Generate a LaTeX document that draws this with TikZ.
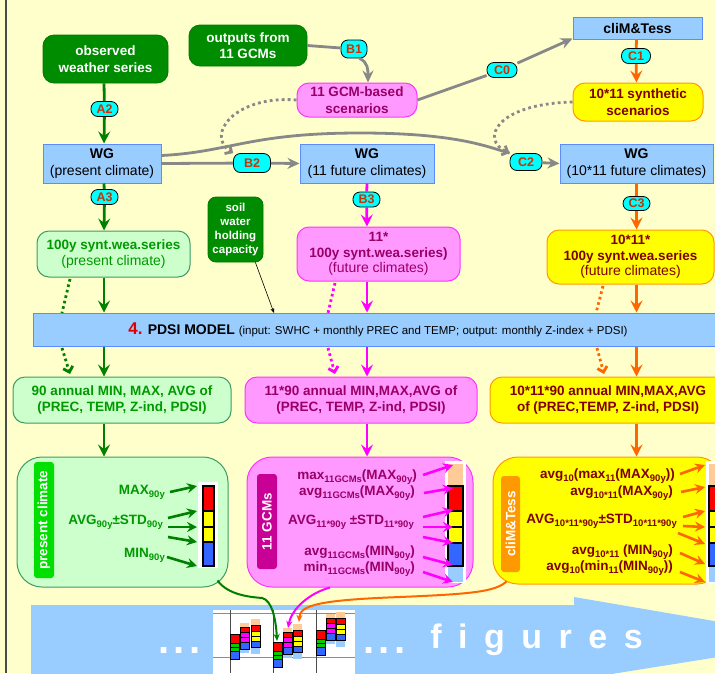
\documentclass[tikz,border=0pt]{standalone}
\usepackage{fontspec}
\setmainfont{Liberation Sans}
\usetikzlibrary{arrows.meta,positioning}

\definecolor{bgyel}{HTML}{FFFFCC}
\definecolor{dkgreen}{HTML}{008C00}
\definecolor{palegreen}{HTML}{CCFFCC}
\definecolor{paleline}{HTML}{3C9C64}
\definecolor{greentext}{HTML}{009900}
\definecolor{arrgreen}{HTML}{008000}
\definecolor{sidegreen}{HTML}{00E000}
\definecolor{skyblue}{HTML}{99CCFF}
\definecolor{skyline}{HTML}{5C8CFF}
\definecolor{pinkfill}{HTML}{FF99FF}
\definecolor{pinkline}{HTML}{FF33FF}
\definecolor{pinktext}{HTML}{990066}
\definecolor{arrmag}{HTML}{FF00FF}
\definecolor{sidemag}{HTML}{C80096}
\definecolor{yelfill}{HTML}{FFFF00}
\definecolor{orgline}{HTML}{FF9900}
\definecolor{yeltext}{HTML}{800000}
\definecolor{arrorg}{HTML}{FF6600}
\definecolor{sideorg}{HTML}{FF9900}
\definecolor{tagcyan}{HTML}{00FFFF}
\definecolor{tagred}{HTML}{CC3300}
\definecolor{numred}{HTML}{DD0000}
\definecolor{conngray}{HTML}{888888}
\definecolor{barred}{HTML}{FF0000}
\definecolor{baryel}{HTML}{FFFF00}
\definecolor{barblu}{HTML}{3366FF}
\definecolor{bargrn}{HTML}{00CC00}
\definecolor{barmag}{HTML}{FF00FF}
\definecolor{barpeach}{HTML}{FFCC99}
\definecolor{barlight}{HTML}{99CCFF}

\newcommand{\fsz}[2]{\fontsize{#1}{#2}\selectfont}
\newcommand{\subt}[1]{\raisebox{-0.4ex}{\fsz{9.5}{10}#1}}
\newcommand{\lgap}{\hspace{16.5pt}}

\tikzset{
  box/.style={align=center, inner sep=0pt, font=\bfseries\fsz{13.5}{16.5}},
  gbox/.style={box, rounded corners=11pt, fill=dkgreen, draw=dkgreen!85!black, line width=0.8pt, text=white},
  wgbox/.style={box, fill=skyblue, draw=skyline, line width=1pt, font=\fsz{14}{16.5}},
  pinkbox/.style={box, rounded corners=12pt, fill=pinkfill, draw=pinkline, line width=1pt, text=pinktext},
  yelbox/.style={box, rounded corners=12pt, fill=yelfill, draw=orgline, line width=1pt, text=yeltext},
  palebox/.style={box, rounded corners=12pt, fill=palegreen, draw=paleline, line width=1pt, text=greentext},
  tag/.style={rounded corners=7pt, fill=tagcyan, draw=black, line width=0.8pt, text=tagred, font=\bfseries\fsz{12.5}{13}, minimum width=27pt, minimum height=15pt, inner sep=0pt},
  sidelab/.style={rotate=90, rounded corners=3pt, text=white, font=\bfseries\fsz{13.5}{14}, inner sep=0pt},
  stattxt/.style={anchor=east, inner sep=0pt, font=\bfseries\fsz{13.5}{14}},
  gline/.style={draw=conngray, line width=2.8pt},
  garr/.style={gline, -{Stealth[length=12pt,width=11pt,inset=4pt]}},
  gdots/.style={gline, dash pattern=on 2.8pt off 3.2pt, -{Straight Barb[length=5pt,width=10pt]}},
  colline/.style={draw=#1, line width=2.8pt},
  colarr/.style={colline=#1, -{Stealth[length=12pt,width=12pt,inset=4.5pt]}},
  dotline/.style={colline=#1, dash pattern=on 2.6pt off 3pt},
  dotarr/.style={dotline=#1, -{Straight Barb[length=5pt,width=10pt]}},
  sarr/.style={draw=#1, line width=2.6pt, -{Stealth[length=10pt,width=10pt,inset=3.5pt]}},
  barseg/.style={draw=black, line width=1.4pt},
  minibar/.style={draw=black, line width=1pt},
  figline/.style={draw=#1, line width=2pt, -{Stealth[length=7pt,width=6pt,inset=2pt]}},
  bigtxt/.style={text=white, font=\bfseries\fsz{34}{36}, inner sep=0pt, anchor=base},
}

\begin{document}
\begin{tikzpicture}[x=1pt, y=-1pt]
  \useasboundingbox (0,0) rectangle (715,673);
  \clip (0,0) rectangle (715,673);
  \fill[bgyel] (0,0) rectangle (715,673);
  \draw[line width=1.2pt, black!70] (6,0) -- (6,673);

  % big arrow to the figures
  \fill[skyblue] (31,680) -- (31,605) -- (574,605) -- (574,597) -- (825,640) -- (574,680) -- cycle;
  \node[bigtxt, font=\bfseries\fsz{40}{40}] (dotsa) at (179.5,653) {.\hspace{4pt}.\hspace{4pt}.};
  \node[bigtxt, font=\bfseries\fsz{40}{40}] (dotsb) at (384.5,653) {.\hspace{4pt}.\hspace{4pt}.};
  \node[bigtxt] (figtxt) at (536.5,648) {f\lgap i\lgap g\lgap u\lgap r\lgap e\lgap s};

  % small figure inset
  \fill[white] (213,610) rectangle (355,680);
  \draw[black!45, line width=0.8pt] (213,613) -- (355,613) (213,657) -- (355,657);
  \foreach \gx in {230,273,316}
    \draw[black!70, line width=0.8pt] (\gx,610) -- (\gx,673);
  \foreach \xa/\ya/\xb/\yb/\xc/\yc in {230/634/240/623/251/619, 273/642/283/628/293/624, 316/630/326/614/336/612}{
    \foreach \ta/\tb/\cc in {0/9/barred, 9/13/bargrn, 13/17/bargrn, 17/25/barblu}
      \draw[minibar, fill=\cc] (\xa,\ya+\ta) rectangle (\xa+9,\ya+\tb);
    \fill[barpeach] (\xb,\yb) rectangle (\xb+9,\yb+4);
    \fill[barlight] (\xb,\yb+26) rectangle (\xb+9,\yb+30);
    \foreach \ta/\tb/\cc in {4/9/barred, 9/14/barmag, 14/19/barmag, 19/26/barblu}
      \draw[minibar, fill=\cc] (\xb,\yb+\ta) rectangle (\xb+9,\yb+\tb);
    \fill[barpeach] (\xc,\yc) rectangle (\xc+9,\yc+6);
    \fill[barlight] (\xc,\yc+28) rectangle (\xc+9,\yc+35);
    \foreach \ta/\tb/\cc in {6/12/barred, 12/17/baryel, 17/22/baryel, 22/28/barblu}
      \draw[minibar, fill=\cc] (\xc,\yc+\ta) rectangle (\xc+9,\yc+\tb);
  }

  % boxes
  \node[gbox, minimum width=125pt, minimum height=48pt] (obs) at (105.5,59) {observed\\weather series};
  \node[gbox, minimum width=118pt, minimum height=41pt] (gcm) at (248,45.5) {outputs from\\11 GCMs};
  \node[pinkbox, minimum width=120pt, minimum height=34pt] (gcmsc) at (357,100) {11 GCM-based\\scenarios};
  \node[wgbox, font=\bfseries\fsz{14}{16}, minimum width=129pt, minimum height=22pt] (climt) at (637.5,28) {cliM\&Tess};
  \node[yelbox, minimum width=130pt, minimum height=38pt] (synth) at (638,102) {10*11 synthetic\\scenarios};
  \node[wgbox, minimum width=118pt, minimum height=39pt] (wg0) at (102,163.5) {\textbf{WG}\\(present climate)};
  \node[wgbox, minimum width=134pt, minimum height=39pt] (wg1) at (367,163.5) {\textbf{WG}\\(11 future climates)};
  \node[wgbox, minimum width=153pt, minimum height=39pt] (wg2) at (636.5,163.5) {\textbf{WG}\\(10*11 future climates)};

  \node[palebox, minimum width=153pt, minimum height=46pt] (syn0) at (113.5,254) {100y synt.wea.series\\{\mdseries\fsz{14}{16}(present climate)}};
  \node[gbox, rounded corners=8pt, font=\bfseries\fsz{11.5}{14}, minimum width=55pt, minimum height=65pt] (soil) at (235.5,229.5) {soil\\water\\holding\\capacity};
  \node[pinkbox, font=\bfseries\fsz{13.5}{15.5}, minimum width=163pt, minimum height=54pt] (syn1) at (378.5,254) {11*\\100y synt.wea.series)\\{\mdseries\fsz{14}{15.5}(future climates)}};
  \node[yelbox, font=\bfseries\fsz{13.5}{15.5}, minimum width=167pt, minimum height=54pt] (syn2) at (630.5,257) {10*11*\\100y synt.wea.series\\{\mdseries\fsz{14}{15.5}(future climates)}};

  \node[wgbox, minimum width=690pt, minimum height=33pt] (pdsi) at (378,329.5)
    {{\bfseries\fsz{17}{18}\textcolor{numred}{4.}} \textbf{PDSI MODEL} {\fsz{11.5}{13}(input: SWHC + monthly PREC and TEMP; output: monthly Z-index + PDSI)}};

  \node[palebox, font=\bfseries\fsz{13.5}{16}, minimum width=218pt, minimum height=46pt] (ann0) at (122,400) {90 annual MIN, MAX, AVG of\\(PREC, TEMP, Z-ind, PDSI)};
  \node[pinkbox, font=\bfseries\fsz{13.5}{16}, minimum width=232pt, minimum height=46pt] (ann1) at (361,400) {11*90 annual MIN,MAX,AVG of\\(PREC, TEMP, Z-ind, PDSI)};
  \node[yelbox, font=\bfseries\fsz{13.5}{16}, minimum width=236pt, minimum height=46pt] (ann2) at (608,400) {10*11*90 annual MIN,MAX,AVG\\of (PREC,TEMP, Z-ind, PDSI)};

  % statistics boxes
  \node[palebox, rounded corners=25pt, minimum width=211pt, minimum height=130pt] (stat0) at (122.5,522) {};
  \node[pinkbox, rounded corners=25pt, minimum width=226pt, minimum height=130pt] (stat1) at (360,522) {};
  \node[yelbox, rounded corners=25pt, minimum width=229pt, minimum height=127pt] (stat2) at (607.5,520.5) {};
  \node[sidelab, fill=sidegreen, minimum width=116pt, minimum height=20pt] (lab0) at (44,520) {present climate};
  \node[sidelab, fill=sidemag, minimum width=95pt, minimum height=20pt] (lab1) at (267,521.5) {11 GCMs};
  \node[sidelab, fill=sideorg, minimum width=96pt, minimum height=19pt] (lab2) at (510.5,524) {cliM\&Tess};

  \node[stattxt, text=greentext] (t0a) at (165,492) {MAX\subt{90y}};
  \node[stattxt, text=greentext] (t0b) at (163,522) {AVG\subt{90y}±STD\subt{90y}};
  \node[stattxt, text=greentext] (t0c) at (165,555) {MIN\subt{90y}};
  \node[stattxt, text=pinktext] (t1a) at (417,477) {max\subt{11GCMs}(MAX\subt{90y})};
  \node[stattxt, text=pinktext] (t1b) at (415,493) {avg\subt{11GCMs}(MAX\subt{90y})};
  \node[stattxt, text=pinktext] (t1c) at (414,522) {AVG\subt{11*90y} ±STD\subt{11*90y}};
  \node[stattxt, text=pinktext] (t1d) at (415,553) {avg\subt{11GCMs}(MIN\subt{90y})};
  \node[stattxt, text=pinktext] (t1e) at (415,569) {min\subt{11GCMs}(MIN\subt{90y})};
  \node[stattxt, text=yeltext] (t2a) at (675,476) {avg\subt{10}(max\subt{11}(MAX\subt{90y}))};
  \node[stattxt, text=yeltext] (t2b) at (673,493) {avg\subt{10*11}(MAX\subt{90y})};
  \node[stattxt, text=yeltext] (t2c) at (677,521) {AVG\subt{10*11*90y}±STD\subt{10*11*90y}};
  \node[stattxt, text=yeltext] (t2d) at (673,552) {avg\subt{10*11} (MIN\subt{90y})};
  \node[stattxt, text=yeltext] (t2e) at (673,568) {avg\subt{10}(min\subt{11}(MIN\subt{90y}))};

  % bars in the statistics boxes
  \fill[white] (198,482) rectangle (218,568);
  \foreach \ta/\tb/\cc in {486/511/barred, 511/527/baryel, 527/542/baryel, 542/566/barblu}
    \draw[barseg, fill=\cc] (203,\ta) rectangle (214,\tb);
  \foreach \bx in {448,709}{
    \fill[white] (\bx-3,461) rectangle (\bx+18,583);
    \fill[barpeach] (\bx,464) rectangle (\bx+15,486);
    \fill[barlight] (\bx,566) rectangle (\bx+15,582);
    \foreach \ta/\tb/\cc in {486/511/barred, 511/527/baryel, 527/543/baryel, 543/566/barblu}
      \draw[barseg, fill=\cc] (\bx,\ta) rectangle (\bx+15,\tb);
  }

  \draw[sarr=arrgreen] ([xshift=5pt]t0a.east) -- ++(27,-6);
  \draw[sarr=arrgreen] ([shift={(5,-4)}]t0b.east) -- ++(29,-7);
  \draw[sarr=arrgreen] ([shift={(5,5)}]t0b.east) -- ++(29,0);
  \draw[sarr=arrgreen] ([shift={(5,15)}]t0b.east) -- ++(29,5);
  \draw[sarr=arrgreen] ([shift={(2,2)}]t0c.east) -- ++(30,9);
  \draw[sarr=arrmag] ([shift={(6,-2)}]t1a.east) -- ++(30,-10);
  \draw[sarr=arrmag] ([xshift=9pt]t1b.east) -- ++(29,-5);
  \draw[sarr=arrmag] ([shift={(9,-5)}]t1c.east) -- ++(30,-7);
  \draw[sarr=arrmag] ([shift={(9,5)}]t1c.east) -- ++(30,0);
  \draw[sarr=arrmag] ([shift={(9,15)}]t1c.east) -- ++(30,6);
  \draw[sarr=arrmag] ([shift={(8,4)}]t1d.east) -- ++(30,8);
  \draw[sarr=arrmag] ([shift={(8,3)}]t1e.east) -- ++(30,10);
  \draw[sarr=arrorg] ([shift={(5,-2)}]t2a.east) -- ++(25,-9);
  \draw[sarr=arrorg] ([shift={(8,-1)}]t2b.east) -- ++(24,-5);
  \draw[sarr=arrorg] ([shift={(6,-4)}]t2c.east) -- ++(22,-6);
  \draw[sarr=arrorg] ([shift={(6,5)}]t2c.east) -- ++(22,1);
  \draw[sarr=arrorg] ([shift={(1,12)}]t2c.east) -- ++(27,11);
  \draw[sarr=arrorg] ([shift={(7,1)}]t2d.east) -- ++(25,11);
  \draw[sarr=arrorg] ([shift={(7,4)}]t2e.east) -- ++(25,10);

  % tags
  \node[tag] (a2) at (104.5,109) {A2};
  \node[tag, minimum width=26pt, minimum height=18pt] (b1) at (354,49) {B1};
  \node[tag, minimum width=30pt] (c0) at (502,70) {C0};
  \node[tag, minimum width=29pt] (c1) at (636,56) {C1};
  \node[tag, minimum width=37pt, minimum height=19pt] (b2) at (252,163) {B2};
  \node[tag, minimum width=32pt, minimum height=17pt] (c2) at (526,162) {C2};
  \node[tag] (a3) at (104.5,197) {A3};
  \node[tag] (b3) at (366.5,199.5) {B3};
  \node[tag, minimum height=14pt] (c3) at (636.5,203.5) {C3};

  \coordinate (colA) at (104,0);
  \coordinate (colB) at (367,0);
  \coordinate (colC) at (636.5,0);

  % grey connectors
  \draw[gline] (gcm.east) -- (b1);
  \draw[garr] (b1.-60) .. controls (368,62) and (368,70) .. ([xshift=11pt]gcmsc.north);
  \draw[gline] (gcmsc.east) -- (c0);
  \draw[garr] (c0) -- ([yshift=1pt]climt.south west);
  \draw[gline] (wg0.east) -- (b2);
  \draw[garr] (b2) -- (wg1.west);
  \draw[gline] ([yshift=8pt]wg0.east) .. controls (230,152) and (250,133) .. (360,133)
    .. controls (460,133) and (490,148) .. (c2.north west);
  \draw[garr] (c2) -- (wg2.west);
  \draw[gdots] (gcmsc.west) .. controls (235,95) and (205,135) .. (b2.north west);
  \draw[gdots] (synth.west) .. controls (495,104) and (480,140) .. (c2.north west);

  % coloured columns
  \draw[colline=arrgreen] (obs.south -| colA) -- (a2);
  \draw[colarr=arrgreen] (a2) -- (wg0.north -| colA);
  \draw[colline=arrgreen] (wg0.south -| colA) -- (a3);
  \draw[colarr=arrgreen] (a3) -- (syn0.north -| colA);
  \draw[colline=arrorg] (climt.south -| colC) -- (c1);
  \draw[colarr=arrorg] (c1) -- (synth.north -| colC);
  \draw[colline=arrmag] (wg1.south -| colB) -- (b3);
  \draw[colarr=arrmag] (b3) -- (syn1.north -| colB);
  \draw[colline=arrorg] (wg2.south -| colC) -- (c3);
  \draw[colarr=arrorg] (c3) -- (syn2.north -| colC);
  \foreach \sy/\an/\st/\cl/\cc in {syn0/ann0/stat0/colA/arrgreen, syn1/ann1/stat1/colB/arrmag, syn2/ann2/stat2/colC/arrorg}{
    \draw[colarr=\cc] (\sy.south -| \cl) -- (pdsi.north -| \cl);
    \draw[colarr=\cc] (pdsi.south -| \cl) -- (\an.north -| \cl);
    \draw[colarr=\cc] (\an.south -| \cl) -- (\st.north -| \cl);
  }

  % dotted side paths through the model
  \coordinate (dA0) at (70,279);  \coordinate (dA1) at (62,313);
  \coordinate (dA2) at (62,348);  \coordinate (dA3) at (70,374);
  \coordinate (dB0) at (335,283); \coordinate (dB1) at (328,313);
  \coordinate (dB2) at (328,348); \coordinate (dB3) at (335,374);
  \coordinate (dC0) at (603,286); \coordinate (dC1) at (596,313);
  \coordinate (dC2) at (597,348); \coordinate (dC3) at (604,374);
  \draw[dotline=arrgreen] (dA0) -- (dA1);
  \draw[dotarr=arrgreen] (dA2) -- (dA3);
  \draw[dotline=arrmag] (dB0) -- (dB1);
  \draw[dotarr=arrmag] (dB2) -- (dB3);
  \draw[dotline=arrorg] (dC0) -- (dC1);
  \draw[dotarr=arrorg] (dC2) -- (dC3);

  % soil water input
  \coordinate (swhc) at (274,313);
  \draw[-{Stealth[length=5pt,width=4pt]}, line width=0.6pt] ([xshift=-8pt]soil.south east) -- (swhc);

  % links to the figures
  \coordinate (fig0) at (277,641);
  \coordinate (fig1) at (288,628);
  \coordinate (fig2) at (299,622);
  \draw[figline=arrgreen] ([shift={(-11,-7)}]stat0.south east) .. controls (228,595) and (250,597) .. (262,598)
    .. controls (272,600) and (276,620) .. (fig0);
  \draw[figline=arrmag] ([xshift=-30pt]stat1.south) .. controls (310,593) and (292,608) .. (fig1);
  \draw[figline=arrorg] ([shift={(14,-3)}]stat2.south west) .. controls (495,592) and (470,594) .. (400,597)
    .. controls (320,600) and (300,605) .. (fig2);
\end{tikzpicture}
\end{document}
